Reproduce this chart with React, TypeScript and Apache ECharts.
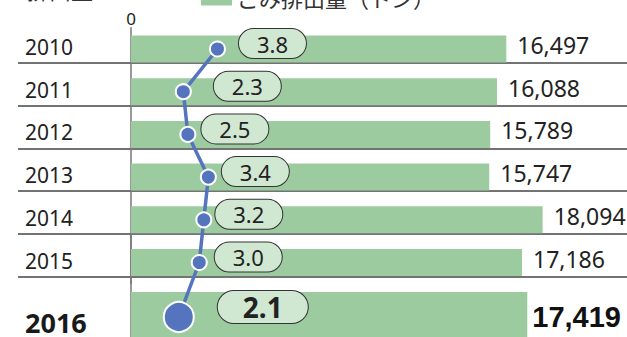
import React, { useEffect, useRef } from "react";
import * as echarts from "echarts";

// Yearly amounts (bars) and rates (line)
const years = ["2010", "2011", "2012", "2013", "2014", "2015", "2016"];
const amounts = [16497, 16088, 15789, 15747, 18094, 17186, 17419];
const rates = [3.8, 2.3, 2.5, 3.4, 3.2, 3.0, 2.1];
const amountTicks = [0];

// Horizontal shift of each rate bubble from its point (px)
const bubbleShift = [55, 64, 47, 47, 45, 49, 84];

const BAR = "#9dcba0";
const BLUE = "#5474be";
const BUBBLE = "#d0e7d2";
const FONT = "'Noto Sans', 'Noto Sans CJK JP', sans-serif";

const ROW = 42.7;
const FIRST_CENTER = 49;
const AXIS_X = 131;
const PLOT_W = 455;

export default function App() {
  const ref = useRef<HTMLDivElement>(null);

  useEffect(() => {
    if (!ref.current) return;
    const chart = echarts.init(ref.current, undefined, { renderer: "svg" });

    const mainYears = years.slice(0, 6);
    const latestIdx = years.length - 1;
    const gridATop = FIRST_CENTER - ROW / 2;
    const latestCenter = 317;
    const band2 = latestCenter - (FIRST_CENTER + 5 * ROW);
    const gridBTop = latestCenter - 1.5 * band2;

    const bubbleLabel = (i: number) => ({
      show: true,
      position: "inside",
      offset: [bubbleShift[i], -5.5],
      formatter: (p: any) => Number(p.value).toFixed(1),
      fontFamily: FONT,
      fontSize: 22,
      color: "#222",
      backgroundColor: BUBBLE,
      borderColor: "#333",
      borderWidth: 1,
      borderRadius: 15,
      width: 67,
      lineHeight: 23,
      padding: [3, 0],
      align: "center",
    });

    chart.setOption({
      animation: false,
      title: {
        text: "排出量",
        left: 22,
        top: -26,
        textStyle: { fontFamily: FONT, fontSize: 22, fontWeight: "normal", color: "#333" },
      },
      legend: {
        data: ["ごみ排出量（トン）"],
        left: 196,
        top: -18,
        itemWidth: 31,
        itemHeight: 15,
        icon: "rect",
        itemGap: 8,
        textStyle: { fontFamily: FONT, fontSize: 22, color: "#333" },
      },
      grid: [
        { left: AXIS_X, top: gridATop, width: PLOT_W, height: ROW * 6, outerBoundsMode: "none" },
        { left: AXIS_X, top: gridBTop, width: PLOT_W, height: band2 * 2, outerBoundsMode: "none" },
        { left: 18, right: 0, top: gridATop - 7.3, height: ROW * 6, outerBoundsMode: "none" },
      ],
      xAxis: [
        {
          gridIndex: 0,
          type: "value",
          position: "top",
          min: amountTicks[0],
          max: 20000,
          interval: 20000,
          axisLine: { show: false },
          axisTick: { show: false },
          splitLine: { show: false },
          axisLabel: {
            margin: 1,
            fontFamily: FONT,
            fontSize: 17,
            color: "#222",
            formatter: (v: number) => (amountTicks.includes(v) ? String(v) : ""),
          },
        },
        { gridIndex: 0, type: "value", min: 0, max: 20, show: false },
        { gridIndex: 1, type: "value", min: 0, max: 20000, show: false },
        { gridIndex: 1, type: "value", min: 0, max: 20, show: false },
        { gridIndex: 2, type: "value", show: false },
      ],
      yAxis: [
        {
          gridIndex: 0,
          type: "category",
          data: mainYears,
          inverse: true,
          axisLine: { show: true, lineStyle: { color: "#777", width: 1.5 } },
          axisTick: { show: false },
          axisLabel: {
            align: "left",
            verticalAlign: "bottom",
            lineHeight: 4,
            margin: AXIS_X - 25,
            fontFamily: FONT,
            fontSize: 21,
            color: "#222",
          },
        },
        {
          gridIndex: 1,
          type: "category",
          data: [years[latestIdx - 1], years[latestIdx]],
          inverse: true,
          axisLine: { show: true, lineStyle: { color: "#777", width: 1.5 } },
          axisTick: { show: false },
          axisLabel: {
            align: "left",
            verticalAlign: "top",
            lineHeight: 10,
            margin: AXIS_X - 25,
            fontFamily: FONT,
            fontSize: 27,
            fontWeight: "bold",
            color: "#1a1a1a",
            formatter: (v: string, i: number) => (i === 1 ? v : ""),
          },
        },
        {
          gridIndex: 2,
          type: "category",
          data: mainYears,
          inverse: true,
          axisLine: { show: false },
          axisTick: { show: false },
          axisLabel: { show: false },
          splitLine: {
            show: true,
            showMinLine: false,
            lineStyle: { color: "#444", width: 1.5 },
          },
        },
      ],
      series: [
        {
          name: "ごみ排出量（トン）",
          type: "bar",
          xAxisIndex: 0,
          yAxisIndex: 0,
          data: amounts.slice(0, 6),
          barWidth: 27,
          z: 1,
          itemStyle: { color: BAR },
          label: {
            show: true,
            position: "right",
            distance: 11,
            offset: [0, -4],
            fontFamily: FONT,
            fontSize: 23,
            color: "#222",
            formatter: (p: any) => Number(p.value).toLocaleString("en-US"),
          },
        },
        {
          name: "rate",
          type: "line",
          xAxisIndex: 1,
          yAxisIndex: 0,
          z: 4,
          symbol: "circle",
          symbolSize: 15,
          lineStyle: { color: BLUE, width: 3.5 },
          itemStyle: { color: BLUE, borderColor: "#fff", borderWidth: 2 },
          data: rates.slice(0, 6).map((v, i) => ({ value: v, label: bubbleLabel(i) })),
        },
        {
          name: "ごみ排出量（トン）",
          type: "bar",
          xAxisIndex: 2,
          yAxisIndex: 1,
          data: ["-", amounts[latestIdx]],
          barWidth: 50,
          z: 1,
          itemStyle: { color: BAR },
          label: {
            show: true,
            position: "right",
            distance: 5,
            fontFamily: "'Liberation Sans Narrow', 'Liberation Sans', sans-serif",
            fontWeight: "bold",
            fontSize: 29,
            color: "#111",
            formatter: (p: any) => Number(p.value).toLocaleString("en-US"),
          },
        },
        {
          name: "rateLatest",
          type: "line",
          xAxisIndex: 3,
          yAxisIndex: 1,
          z: 3,
          symbol: "circle",
          lineStyle: { color: BLUE, width: 3.5 },
          itemStyle: { color: BLUE, borderColor: "#fff", borderWidth: 2 },
          data: [
            { value: rates[latestIdx - 1], symbolSize: 0, label: { show: false } },
            {
              value: rates[latestIdx],
              symbolSize: 30,
              label: {
                ...bubbleLabel(latestIdx),
                offset: [bubbleShift[latestIdx], -10],
                fontSize: 28,
                fontWeight: "bold",
                width: 90,
                lineHeight: 28,
                padding: [2, 0],
                borderRadius: 16,
              },
            },
          ],
        },
      ],
    });

    return () => chart.dispose();
  }, []);

  return (
    <div
      ref={ref}
      style={{ position: "absolute", left: 0, top: 0, width: 627, height: 337 }}
    />
  );
}
